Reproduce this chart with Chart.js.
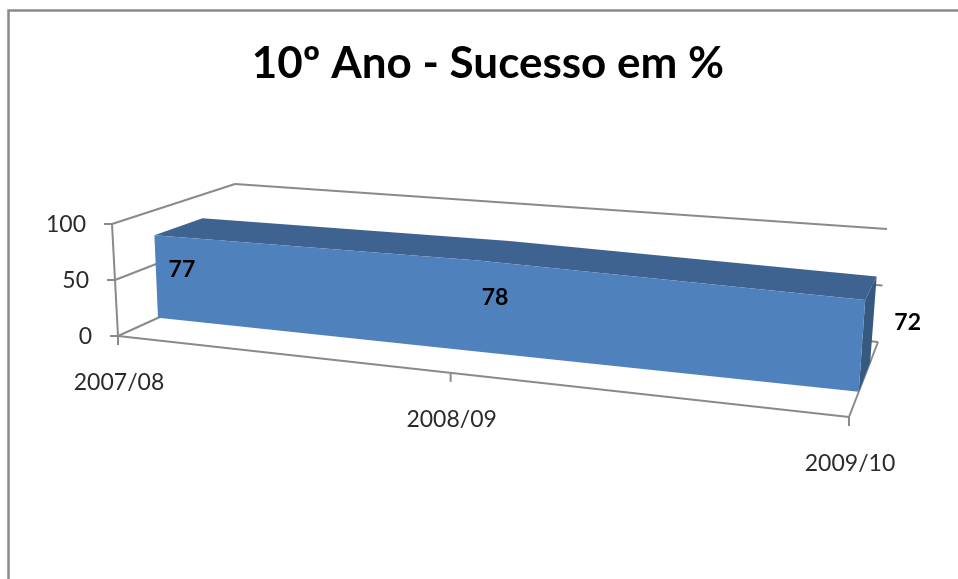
<!DOCTYPE html>
<html>
<head>
<meta charset="utf-8">
<title>10º Ano - Sucesso em %</title>
<script src="https://cdn.jsdelivr.net/npm/chart.js@4"></script>
<style>
    html, body { margin: 0; padding: 0; background: #fff; overflow: hidden; }
    canvas { display: block; }
</style>
</head>
<body>
<canvas id="sucessoChart" width="958" height="579"></canvas>
<script>
const categories = ['2007/08', '2008/09', '2009/10'];
const sucesso = [77, 78, 72];
const yTicks = [0, 50, 100];

const GRID = '#8a8a8a';
const TEXT = '#2b2b2b';
const FRONT = '#4f81bd';
const TOP = '#3f6391';
const SIDE = '#35597f';
const LABEL_FONT = '23px Lato, sans-serif';

// Corners of the 3D box as it lands on the page (base/top, front/back, left/right)
const box = {
    baseFrontLeft: [118, 336], baseFrontRight: [849, 417],
    baseBackLeft: [237, 282], baseBackRight: [878, 342],
    topFrontLeft: [112, 224], topFrontRight: [858, 282],
    topBackLeft: [235, 184], topBackRight: [887, 229]
};
const SERIES_FRONT = 0.336; // where the area starts and ends in depth
const SERIES_BACK = 0.73;
const FORESHORTEN = 0.835; // right side is closer to the viewer

function mix(a, b, t) {
    return [a[0] + (b[0] - a[0]) * t, a[1] + (b[1] - a[1]) * t];
}

function project(u, v, w) {
    const p = FORESHORTEN * u / (1 - (1 - FORESHORTEN) * u);
    const base = mix(mix(box.baseFrontLeft, box.baseFrontRight, p), mix(box.baseBackLeft, box.baseBackRight, p), w);
    const top = mix(mix(box.topFrontLeft, box.topFrontRight, p), mix(box.topBackLeft, box.topBackRight, p), w);
    return mix(base, top, v);
}

function polygon(ctx, pts, color) {
    ctx.beginPath();
    pts.forEach((p, i) => i ? ctx.lineTo(p[0], p[1]) : ctx.moveTo(p[0], p[1]));
    ctx.closePath();
    ctx.fillStyle = color;
    ctx.fill();
}

function line(ctx, a, b) {
    ctx.beginPath();
    ctx.moveTo(a[0], a[1]);
    ctx.lineTo(b[0], b[1]);
    ctx.stroke();
}

const area3d = {
    id: 'area3d',
    beforeDatasetsDraw(chart) {
        const ctx = chart.ctx;
        const a = chart.chartArea;
        const x = chart.scales.x;
        const y = chart.scales.y;
        const uOf = i => (x.getPixelForValue(i) - a.left) / a.width;
        const vOf = val => (a.bottom - y.getPixelForValue(val)) / a.height;

        ctx.save();

        // frame of the chart object, the picture cuts off right and bottom
        ctx.strokeStyle = GRID;
        ctx.lineWidth = 2.5;
        ctx.beginPath();
        ctx.moveTo(8.5, 579);
        ctx.lineTo(8.5, 10.5);
        ctx.lineTo(958, 10.5);
        ctx.stroke();

        // walls and floor
        ctx.lineWidth = 2;
        yTicks.forEach(t => {
            const v = vOf(t);
            const front = project(0, v, 0);
            line(ctx, front, project(0, v, 1));
            line(ctx, project(0, v, 1), project(1, v, 1));
            line(ctx, [front[0] - 8, front[1]], front);
            ctx.fillStyle = TEXT;
            ctx.font = LABEL_FONT;
            ctx.textAlign = 'right';
            ctx.textBaseline = 'middle';
            ctx.fillText(String(t), front[0] - 26, front[1] + 1);
        });
        line(ctx, project(0, 0, 0), project(0, 1, 0));
        line(ctx, project(0, 0, 0), project(1, 0, 0));
        line(ctx, project(1, 0, 0), project(1, 0, 1));

        categories.forEach((c, i) => {
            const p = project(uOf(i), 0, 0);
            line(ctx, p, [p[0], p[1] + 9]);
            ctx.fillStyle = TEXT;
            ctx.font = LABEL_FONT;
            ctx.textAlign = 'center';
            ctx.textBaseline = 'middle';
            ctx.fillText(c, p[0] + 1, p[1] + 47);
        });

        // the area itself
        const at = (i, v, w) => project(uOf(i), v, w);
        const last = sucesso.length - 1;
        const roof = sucesso.map((val, i) => at(i, vOf(val), SERIES_FRONT));
        for (let i = last; i >= 0; i--) {
            roof.push(at(i, vOf(sucesso[i]), SERIES_BACK));
        }
        polygon(ctx, roof, TOP);
        polygon(ctx, [
            at(last, vOf(sucesso[last]), SERIES_FRONT),
            at(last, vOf(sucesso[last]), SERIES_BACK),
            at(last, 0, SERIES_BACK),
            at(last, 0, SERIES_FRONT)
        ], SIDE);
        const face = sucesso.map((val, i) => at(i, vOf(val), SERIES_FRONT));
        for (let i = last; i >= 0; i--) {
            face.push(at(i, 0, SERIES_FRONT));
        }
        polygon(ctx, face, FRONT);

        // value labels sit half way up the area, the last one is pushed outside
        ctx.fillStyle = '#000';
        ctx.font = 'bold 23px Lato, sans-serif';
        ctx.textAlign = 'center';
        ctx.textBaseline = 'middle';
        sucesso.forEach((val, i) => {
            const p = at(i, vOf(val) / 2, (SERIES_FRONT + SERIES_BACK) / 2);
            const dx = i === last ? 40 : 2;
            const dy = i === last ? -10 : 3;
            ctx.fillText(String(val), p[0] + dx, p[1] + dy);
        });

        ctx.restore();
    }
};

new Chart(document.getElementById('sucessoChart'), {
    type: 'line',
    data: {
        labels: categories,
        datasets: [{
            label: 'Sucesso em %',
            data: sucesso,
            showLine: false,
            pointRadius: 0
        }]
    },
    options: {
        responsive: false,
        animation: false,
        layout: { padding: { left: 18 } },
        plugins: {
            legend: { display: false },
            tooltip: { enabled: false },
            title: {
                display: true,
                text: '10º Ano - Sucesso em %',
                color: '#000',
                font: { family: 'Lato, sans-serif', size: 44, weight: 'bold' },
                padding: { top: 37, bottom: 10 }
            }
        },
        scales: {
            x: { display: false, offset: false },
            y: { display: false, min: 0, max: 100 }
        }
    },
    plugins: [area3d]
});
</script>
</body>
</html>
